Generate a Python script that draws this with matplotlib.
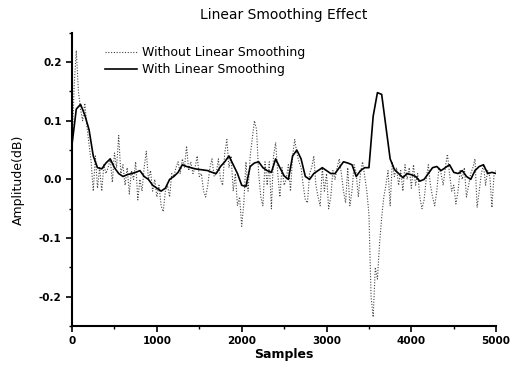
import numpy as np
import matplotlib
matplotlib.use("Agg")
import matplotlib.pyplot as plt
from matplotlib.ticker import MultipleLocator, FormatStrFormatter

# ---- data ----
raw_step = 25
raw_values = [
    # 0 .. 475
    0.05, 0.16, 0.22, 0.15, 0.12, 0.10, 0.13, 0.09, 0.06, 0.03,
    -0.02, 0.04, -0.015, 0.02, -0.02, 0.025, 0.01, 0.02, 0.035, -0.005,
    # 500 .. 975
    0.045, 0.02, 0.075, 0.01, 0.025, -0.01, 0.02, -0.025, 0.015, 0.0,
    0.03, -0.035, 0.0, -0.02, 0.02, 0.048, 0.0, 0.015, -0.02, 0.0,
    # 1000 .. 1475
    -0.03, -0.01, -0.045, -0.055, -0.02, -0.01, -0.03, 0.01, 0.005, 0.02,
    0.03, 0.01, 0.035, 0.02, 0.057, 0.015, 0.03, 0.01, 0.02, 0.04,
    # 1500 .. 1975
    0.005, 0.01, -0.02, -0.03, -0.01, 0.02, 0.035, 0.005, 0.01, 0.035,
    0.0, -0.01, 0.045, 0.068, 0.02, 0.04, -0.02, 0.01, -0.045, -0.03,
    # 2000 .. 2475
    -0.08, -0.04, 0.03, -0.02, 0.04, 0.07, 0.10, 0.085, 0.01, -0.03,
    -0.045, 0.03, -0.01, 0.03, -0.05, 0.04, 0.063, 0.01, -0.03, 0.02,
    # 2500 .. 2975
    -0.01, 0.0, 0.025, -0.02, 0.04, 0.068, 0.045, 0.03, 0.02, -0.01,
    -0.035, -0.04, 0.01, 0.02, 0.04, -0.01, -0.03, -0.045, 0.02, -0.02,
    # 3000 .. 3475
    0.01, -0.05, -0.03, 0.015, 0.0, 0.02, 0.035, 0.01, -0.02, -0.04,
    0.02, -0.045, -0.02, 0.025, 0.01, -0.03, 0.01, 0.03, 0.005, -0.02,
    # 3500 .. 3975
    -0.06, -0.2, -0.235, -0.15, -0.17, -0.11, -0.065, -0.03, -0.01, 0.015,
    -0.045, 0.03, 0.005, 0.02, -0.01, 0.015, -0.02, 0.025, 0.0, 0.02,
    # 4000 .. 4475
    -0.015, 0.025, -0.01, 0.01, -0.03, -0.05, -0.035, 0.0, 0.025, -0.01,
    -0.03, -0.045, -0.02, 0.02, 0.01, -0.01, 0.02, 0.043, 0.01, -0.02,
    # 4500 .. 4975
    -0.01, -0.042, -0.02, 0.015, 0.0, 0.02, -0.03, -0.01, 0.01, 0.02,
    0.035, -0.048, -0.02, 0.01, 0.025, -0.01, 0.015, 0.005, -0.048, 0.01,
    # 5000
    0.015,
]

smooth_step = 50
smooth_values = [
    0.06, 0.12, 0.128, 0.11, 0.085, 0.04, 0.02, 0.018, 0.028, 0.035,
    0.02, 0.01, 0.005, 0.008, 0.01, 0.012, 0.015, 0.005, 0.0, -0.01,
    -0.015, -0.02, -0.015, 0.0, 0.005, 0.012, 0.025, 0.022, 0.02, 0.018,
    0.017, 0.016, 0.015, 0.012, 0.01, 0.022, 0.03, 0.04, 0.025, 0.01,
    -0.01, -0.012, 0.022, 0.028, 0.03, 0.02, 0.015, 0.012, 0.035, 0.02,
    0.006, 0.0, 0.04, 0.05, 0.035, 0.005, 0.0, 0.01, 0.015, 0.02,
    0.015, 0.01, 0.01, 0.02, 0.03, 0.028, 0.025, 0.005, 0.015, 0.02,
    0.02, 0.108, 0.148, 0.145, 0.09, 0.035, 0.017, 0.01, 0.003, 0.01,
    0.008, 0.005, -0.003, 0.0, 0.01, 0.02, 0.022, 0.015, 0.02, 0.025,
    0.012, 0.01, 0.015, 0.005, 0.0, 0.015, 0.022, 0.025, 0.01, 0.012,
    0.01,
]

raw_x = np.arange(len(raw_values)) * raw_step
smooth_x = np.arange(len(smooth_values)) * smooth_step

title = "Linear Smoothing Effect"
label_raw = "Without Linear Smoothing"
label_smooth = "With Linear Smoothing"
xlabel = "Samples"
ylabel = "Amplitude(dB)"

# ---- figure ----
fig = plt.figure(figsize=(5.11, 3.65), dpi=100)
ax = fig.add_axes([0.141, 0.107, 0.830, 0.803])

ax.plot(raw_x, raw_values, color="#444444", lw=0.8, ls=(0, (1, 1.5)),
        label=label_raw)
ax.plot(smooth_x, smooth_values, color="black", lw=1.2, label=label_smooth)

ax.set_xlim(0, 5000)
ax.set_ylim(-0.25, 0.25)
ax.xaxis.set_major_locator(MultipleLocator(1000))
ax.xaxis.set_minor_locator(MultipleLocator(500))
ax.yaxis.set_major_locator(MultipleLocator(0.1))
ax.yaxis.set_minor_locator(MultipleLocator(0.05))
ax.yaxis.set_major_formatter(FormatStrFormatter("%.1f"))

for s in ("top", "right"):
    ax.spines[s].set_visible(False)
for s in ("left", "bottom"):
    ax.spines[s].set_linewidth(1.5)

ax.tick_params(which="major", direction="out", length=4, width=1.2,
               labelsize=7.5)
ax.tick_params(which="minor", direction="out", length=2.5, width=1.0)
for lab in ax.get_xticklabels() + ax.get_yticklabels():
    lab.set_fontweight("bold")

ax.set_title(title, fontsize=10, pad=10)
ax.set_xlabel(xlabel, fontsize=9, fontweight="bold", labelpad=1)
ax.set_ylabel(ylabel, fontsize=9, labelpad=10)

ax.legend(loc="upper left", bbox_to_anchor=(0.06, 0.98), frameon=False,
          fontsize=9, handlelength=2.6, handletextpad=0.4,
          labelspacing=0.3, borderaxespad=0.2)

fig.savefig("out.png", dpi=100)
